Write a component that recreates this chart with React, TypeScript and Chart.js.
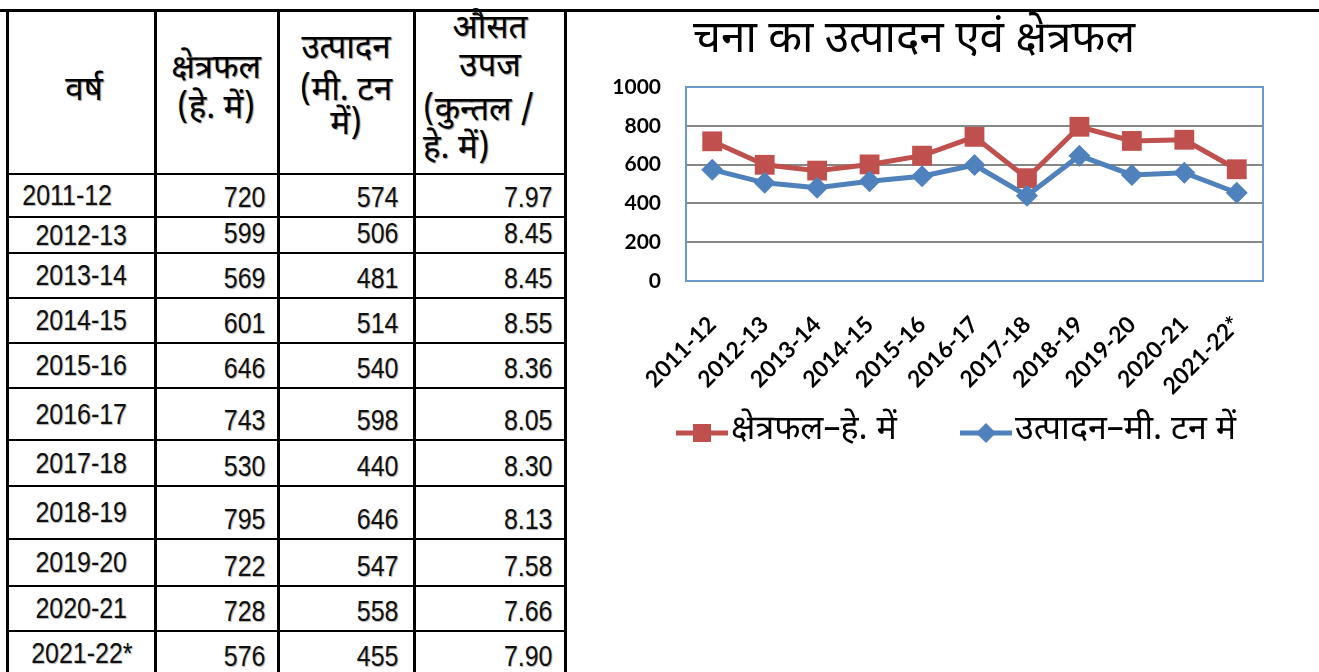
import React, { useEffect, useRef } from "react";
import { Chart, registerables } from "chart.js";

Chart.register(...registerables);

// ---------- data ----------
const years = ["2011-12", "2012-13", "2013-14", "2014-15", "2015-16", "2016-17", "2017-18", "2018-19", "2019-20", "2020-21", "2021-22*"];
const areaHa = [720, 599, 569, 601, 646, 743, 530, 795, 722, 728, 576];
const productionMT = [574, 506, 481, 514, 540, 598, 440, 646, 547, 558, 455];
const avgYield = ["7.97", "8.45", "8.45", "8.55", "8.36", "8.05", "8.30", "8.13", "7.58", "7.66", "7.90"];
const yTickValues = [0, 200, 400, 600, 800, 1000];
const chartTitle = "चना का उत्पादन एवं क्षेत्रफल";
const seriesNames = ["क्षेत्रफल–हे. में", "उत्पादन–मी. टन में"];
const headerYear = ["वर्ष"];
const headerArea = ["क्षेत्रफल", "(हे. में)"];
const headerProd = ["उत्पादन", "(मी. टन", "में)"];
const headerYield = ["औसत", "उपज", "(कुन्तल /", "हे. में)"];

// ---------- layout / style ----------
const DEVA = '"Noto Sans Devanagari", "Lohit Devanagari", "Mangal", "FreeSans", "Noto Sans", sans-serif';
const NUMFONT = '"Liberation Sans", Arial, sans-serif';
const CHARTFONT = 'Lato, "Open Sans", "Liberation Sans", sans-serif';
const RED = "#C0504D";
const BLUE = "#4F81BD";

const colX = [7, 155, 278, 414, 565];
const rowY = [10, 174, 217, 253, 298, 343, 388, 440, 486, 539, 586, 631, 676];

const CANVAS_LEFT = 600;
const CANVAS_W = 719;
const CANVAS_H = 480;

function Line({ left, top, width, height }: { left: number; top: number; width: number; height: number }) {
  return <div style={{ position: "absolute", left, top, width, height, background: "#000" }} />;
}

function HeaderLine({ text, cx, cy, left, align }: { text: string; cx?: number; cy: number; left?: number; align?: string }) {
  const style: any = {
    position: "absolute",
    top: cy - 22,
    height: 44,
    lineHeight: "44px",
    fontFamily: DEVA,
    fontSize: 33,
    color: "#000",
    whiteSpace: "nowrap",
    textShadow: "1px 1px 1px rgba(0,0,0,0.45)",
  };
  if (align === "left") {
    style.left = left;
  } else {
    style.left = (cx as number) - 100;
    style.width = 200;
    style.textAlign = "center";
  }
  return <div style={style}>{text}</div>;
}

function DataTable() {
  const lines: any[] = [];
  colX.forEach((x, i) => {
    lines.push(<Line key={"v" + i} left={x - 1} top={10} width={3} height={662} />);
  });
  rowY.slice(1, rowY.length - 1).forEach((y, i) => {
    lines.push(<Line key={"h" + i} left={6} top={y - 1} width={561} height={2} />);
  });

  const cells: any[] = [];
  years.forEach((yr, r) => {
    const top = rowY[r + 1];
    const h = rowY[r + 2] - top;
    const base: any = {
      position: "absolute",
      top,
      height: h,
      display: "flex",
      fontFamily: NUMFONT,
      fontSize: 29,
      lineHeight: 1,
      color: "#111",
      textShadow: "1px 1px 1px rgba(0,0,0,0.3)",
      boxSizing: "border-box",
    };
    cells.push(
      <div key={"y" + r} style={{ ...base, left: colX[0] + 2, width: colX[1] - colX[0] - 3, alignItems: "center", justifyContent: "center", paddingRight: r === 0 ? 28 : 0 }}>
        <span style={{ display: "inline-block", transform: "scaleX(0.86)", transformOrigin: "center" }}>{yr}</span>
      </div>
    );
    const vals = [String(areaHa[r]), String(productionMT[r]), avgYield[r]];
    const padR = [12, 15, 12];
    vals.forEach((v, c) => {
      cells.push(
        <div key={"c" + r + "_" + c} style={{ ...base, left: colX[c + 1] + 2, width: colX[c + 2] - colX[c + 1] - 3, alignItems: "flex-end", justifyContent: "flex-end", paddingRight: padR[c], paddingBottom: 5 }}>
          <span style={{ display: "inline-block", transform: "scaleX(0.86)", transformOrigin: "right center" }}>{v}</span>
        </div>
      );
    });
  });

  return (
    <>
      {lines}
      <HeaderLine text={headerYear[0]} cx={84} cy={92} />
      <HeaderLine text={headerArea[0]} cx={216} cy={70} />
      <HeaderLine text={headerArea[1]} cx={216} cy={110} />
      <HeaderLine text={headerProd[0]} cx={346} cy={50} />
      <HeaderLine text={headerProd[1]} cx={346} cy={92} />
      <HeaderLine text={headerProd[2]} cx={346} cy={126} />
      <HeaderLine text={headerYield[0]} cx={490} cy={30} />
      <HeaderLine text={headerYield[1]} cx={490} cy={68} />
      <HeaderLine text={headerYield[2]} left={423} cy={112} align="left" />
      <HeaderLine text={headerYield[3]} left={423} cy={150} align="left" />
      {cells}
    </>
  );
}

const frameAndTextPlugin = {
  id: "frameAndText",
  beforeDatasetsDraw(chart: any) {
    const { ctx, chartArea } = chart;
    ctx.save();
    ctx.strokeStyle = "#6E97C9";
    ctx.lineWidth = 2;
    ctx.strokeRect(chartArea.left, chartArea.top, chartArea.right - chartArea.left, chartArea.bottom - chartArea.top);
    ctx.restore();
  },
  afterDraw(chart: any) {
    const { ctx } = chart;
    ctx.save();
    // title
    ctx.fillStyle = "#000";
    ctx.font = `44px ${DEVA}`;
    ctx.textAlign = "center";
    ctx.textBaseline = "middle";
    ctx.fillText(chartTitle, 314, 44);

    // legend
    const ly = 433;
    ctx.font = `34px ${DEVA}`;
    ctx.textAlign = "left";
    // series 1
    ctx.strokeStyle = RED;
    ctx.lineWidth = 5;
    ctx.beginPath();
    ctx.moveTo(76, ly);
    ctx.lineTo(128, ly);
    ctx.stroke();
    ctx.fillStyle = RED;
    ctx.fillRect(102 - 9, ly - 9, 18, 18);
    ctx.fillStyle = "#000";
    ctx.fillText(seriesNames[0], 131, ly);
    // series 2
    ctx.strokeStyle = BLUE;
    ctx.beginPath();
    ctx.moveTo(360, ly);
    ctx.lineTo(412, ly);
    ctx.stroke();
    ctx.fillStyle = BLUE;
    ctx.beginPath();
    ctx.moveTo(386, ly - 10);
    ctx.lineTo(396, ly);
    ctx.lineTo(386, ly + 10);
    ctx.lineTo(376, ly);
    ctx.closePath();
    ctx.fill();
    ctx.fillStyle = "#000";
    ctx.fillText(seriesNames[1], 415, ly);
    ctx.restore();
  },
};

function LineChart() {
  const ref = useRef<HTMLCanvasElement | null>(null);
  useEffect(() => {
    if (!ref.current) return;
    const chart = new Chart(ref.current, {
      type: "line",
      data: {
        labels: years,
        datasets: [
          {
            label: seriesNames[0],
            data: areaHa,
            borderColor: RED,
            backgroundColor: RED,
            borderWidth: 5,
            pointStyle: "rect",
            pointRadius: 14,
            pointHoverRadius: 14,
            pointBorderWidth: 0,
            pointBackgroundColor: RED,
            tension: 0,
            order: 2,
          },
          {
            label: seriesNames[1],
            data: productionMT,
            borderColor: BLUE,
            backgroundColor: BLUE,
            borderWidth: 5,
            pointStyle: "rectRot",
            pointRadius: 11,
            pointHoverRadius: 11,
            pointBorderWidth: 0,
            pointBackgroundColor: BLUE,
            tension: 0,
            order: 1,
          },
        ],
      },
      options: {
        animation: false,
        responsive: false,
        devicePixelRatio: 1,
        layout: { padding: { top: 87, right: 56, left: 0, bottom: 0 } },
        plugins: {
          legend: { display: false },
          title: { display: false },
          tooltip: { enabled: false },
        },
        scales: {
          x: {
            type: "category",
            offset: true,
            grid: { display: false, drawTicks: false },
            border: { display: false },
            ticks: {
              autoSkip: false,
              maxRotation: 45,
              minRotation: 45,
              padding: 30,
              color: "#000",
              font: { family: CHARTFONT, size: 23, weight: "bold" },
            },
            afterFit(scale: any) {
              scale.height = CANVAS_H - 281;
            },
          },
          y: {
            min: 0,
            max: 1000,
            afterBuildTicks(scale: any) {
              scale.ticks = yTickValues.map((v) => ({ value: v }));
            },
            grid: {
              drawTicks: false,
              lineWidth: 2,
              color: (c: any) => (c.tick && (c.tick.value === 0 || c.tick.value === 1000) ? "rgba(0,0,0,0)" : "#878787"),
            },
            border: { display: false },
            ticks: {
              padding: 25,
              color: "#000",
              font: { family: CHARTFONT, size: 21, weight: "bold" },
              callback: (v: any) => String(v),
            },
            afterFit(scale: any) {
              scale.width = 86;
            },
          },
        },
      },
      plugins: [frameAndTextPlugin],
    } as any);
    return () => chart.destroy();
  }, []);
  return (
    <canvas
      ref={ref}
      width={CANVAS_W}
      height={CANVAS_H}
      style={{ position: "absolute", left: CANVAS_LEFT, top: 0, width: CANVAS_W, height: CANVAS_H }}
    />
  );
}

export default function App() {
  return (
    <div style={{ position: "absolute", left: 0, top: 0, width: 1319, height: 672, overflow: "hidden", background: "#fff" }}>
      <Line left={0} top={9} width={1319} height={3} />
      <DataTable />
      <LineChart />
    </div>
  );
}
